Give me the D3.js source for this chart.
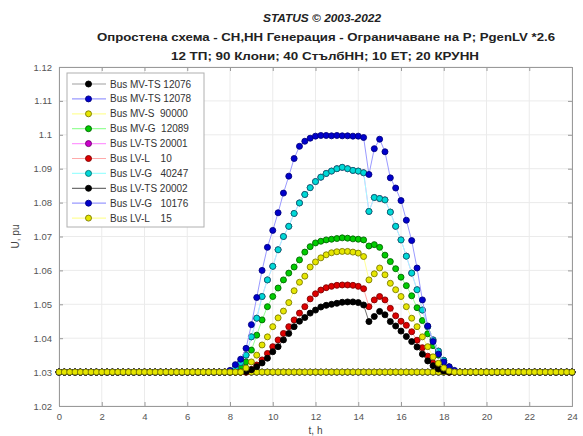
<!DOCTYPE html>
<html><head><meta charset="utf-8">
<script src="https://cdn.jsdelivr.net/npm/d3@7"></script>
<style>
html,body{margin:0;padding:0;background:#fff;}
text{font-family:"Liberation Sans",Arial,sans-serif;}
</style></head>
<body>
<svg id="chart" width="583" height="436"></svg>
<script>
// ---------- data ----------
const titleLines = ["STATUS \u00A9 2003-2022",
  "Опростена схема - СН,НН Генерация - Ограничаване на P; PgenLV *2.6",
  "12 ТП; 90 Клони; 40 СтълбНН; 10 ЕТ; 20 КРУНН"];
const xLabel = "t, h";
const yLabel = "U, pu";
const xTicks = [0,2,4,6,8,10,12,14,16,18,20,22,24];
const yTicks = [1.02,1.03,1.04,1.05,1.06,1.07,1.08,1.09,1.1,1.11,1.12];

const times = [0,0.25,0.5,0.75,1,1.25,1.5,1.75,2,2.25,2.5,2.75,3,3.25,3.5,3.75,4,4.25,4.5,4.75,5,5.25,5.5,5.75,6,6.25,6.5,6.75,7,7.25,7.5,7.75,8,8.25,8.5,8.75,9,9.25,9.5,9.75,10,10.25,10.5,10.75,11,11.25,11.5,11.75,12,12.25,12.5,12.75,13,13.25,13.5,13.75,14,14.25,14.5,14.75,15,15.25,15.5,15.75,16,16.25,16.5,16.75,17,17.25,17.5,17.75,18,18.25,18.5,18.75,19,19.25,19.5,19.75,20,20.25,20.5,20.75,21,21.25,21.5,21.75,22,22.25,22.5,22.75,23,23.25,23.5,23.75,24];

// night part (00:00 - 07:45) shared flat level
const night = [1.03,1.03,1.03,1.03,1.03,1.03,1.03,1.03,1.03,1.03,1.03,1.03,1.03,1.03,1.03,1.03,1.03,1.03,1.03,1.03,1.03,1.03,1.03,1.03,1.03,1.03,1.03,1.03,1.03,1.03,1.03,1.03];
// evening part (18:45 - 24:00)
const evening = [1.03,1.03,1.03,1.03,1.03,1.03,1.03,1.03,1.03,1.03,1.03,1.03,1.03,1.03,1.03,1.03,1.03,1.03,1.03,1.03,1.03,1.03];

// day values 08:00 - 18:30 (43 points)
const dayMVTS12076 = [1.03,1.03,1.03,1.03,1.03,1.03,1.03,1.03,1.03,1.03,1.03,1.03,1.03,1.03,1.03,1.03,1.03,1.03,1.03,1.03,1.03,1.03,1.03,1.03,1.03,1.03,1.03,1.03,1.03,1.03,1.03,1.03,1.03,1.03,1.03,1.03,1.03,1.03,1.03,1.03,1.03,1.03,1.03];
const dayMVTS12078 = [1.03,1.03,1.03,1.03,1.03,1.03,1.03,1.03,1.03,1.03,1.03,1.03,1.03,1.03,1.03,1.03,1.03,1.03,1.03,1.03,1.03,1.03,1.03,1.03,1.03,1.03,1.03,1.03,1.03,1.03,1.03,1.03,1.03,1.03,1.03,1.03,1.03,1.03,1.03,1.03,1.03,1.03,1.03];
const dayMVS90000  = [1.03,1.03,1.03,1.03,1.03,1.03,1.03,1.03,1.03,1.03,1.03,1.03,1.03,1.03,1.03,1.03,1.03,1.03,1.03,1.03,1.03,1.03,1.03,1.03,1.03,1.03,1.03,1.03,1.03,1.03,1.03,1.03,1.03,1.03,1.03,1.03,1.03,1.03,1.03,1.03,1.03,1.03,1.03];
const dayMVG12089  = [1.03,1.03,1.0315,1.0330,1.0365,1.0409,1.0454,1.0493,1.0523,1.0548,1.0572,1.0592,1.0610,1.0631,1.0654,1.0670,1.0681,1.0686,1.0690,1.0692,1.0694,1.0696,1.0695,1.0693,1.0692,1.0690,1.0672,1.0676,1.0668,1.0645,1.0626,1.0605,1.0580,1.0555,1.0525,1.0490,1.0452,1.0413,1.0378,1.0350,1.0328,1.0312,1.0302];
const dayLVTS20001 = [1.03,1.0312,1.0328,1.0350,1.0404,1.0459,1.0523,1.0572,1.0612,1.0661,1.0700,1.0730,1.0768,1.0799,1.0824,1.0844,1.0862,1.0875,1.0886,1.0893,1.0900,1.0904,1.0900,1.0895,1.0893,1.0888,1.0774,1.0815,1.0812,1.0808,1.0772,1.0730,1.0690,1.0642,1.0592,1.0543,1.0483,1.0434,1.0395,1.0362,1.0335,1.0315,1.0303];
const dayLVL10     = [1.03,1.03,1.03,1.03,1.0308,1.0321,1.0336,1.0355,1.0375,1.0395,1.0414,1.0434,1.0454,1.0474,1.0493,1.0516,1.0531,1.0542,1.0549,1.0553,1.0556,1.0557,1.0557,1.0556,1.0553,1.0546,1.0493,1.0513,1.0523,1.0513,1.0488,1.0466,1.0450,1.0438,1.0419,1.0394,1.0372,1.0347,1.0327,1.0313,1.0305,1.03,1.03];
const dayLVG40247  = [1.03,1.0312,1.0328,1.0350,1.0404,1.0459,1.0523,1.0572,1.0612,1.0661,1.0700,1.0730,1.0768,1.0799,1.0824,1.0844,1.0862,1.0875,1.0886,1.0893,1.0900,1.0904,1.0900,1.0895,1.0893,1.0888,1.0774,1.0815,1.0812,1.0808,1.0772,1.0730,1.0690,1.0642,1.0592,1.0543,1.0483,1.0434,1.0395,1.0362,1.0335,1.0315,1.0303];
const dayLVTS20002 = [1.03,1.03,1.03,1.0302,1.0307,1.0316,1.0327,1.0341,1.0360,1.0375,1.0395,1.0414,1.0434,1.0450,1.0461,1.0474,1.0483,1.0492,1.0497,1.0500,1.0503,1.0506,1.0507,1.0507,1.0505,1.0498,1.0449,1.0464,1.0479,1.0469,1.0449,1.0436,1.0421,1.0405,1.0390,1.0374,1.0353,1.0333,1.0319,1.0309,1.0303,1.03,1.03];
const dayLVG10176  = [1.0305,1.0322,1.0338,1.0370,1.0440,1.0520,1.0600,1.0668,1.0718,1.0770,1.0828,1.0878,1.0930,1.0966,1.0981,1.0990,1.0996,1.0998,1.0998,1.0997,1.0998,1.0997,1.0997,1.0996,1.0996,1.0992,1.0883,1.0959,1.0987,1.0950,1.0873,1.0843,1.0806,1.0748,1.0688,1.0607,1.0513,1.0436,1.0390,1.0353,1.0330,1.0316,1.0305];
const dayLVL15     = [1.03,1.03,1.03,1.0312,1.0330,1.0350,1.0380,1.0404,1.0434,1.0460,1.0480,1.0505,1.0540,1.0565,1.0583,1.0610,1.0625,1.0637,1.0646,1.0652,1.0655,1.0656,1.0656,1.0654,1.0651,1.0641,1.0572,1.0590,1.0607,1.0587,1.0562,1.0543,1.0523,1.0493,1.0459,1.0434,1.0404,1.0375,1.0345,1.0326,1.0312,1.0303,1.03];

const seriesNames = ["Bus MV-TS 12076","Bus MV-TS 12078","Bus MV-S  90000","Bus MV-G  12089","Bus LV-TS 20001","Bus LV-L    10","Bus LV-G   40247","Bus LV-TS 20002","Bus LV-G   10176","Bus LV-L    15"];
const seriesDay = [dayMVTS12076,dayMVTS12078,dayMVS90000,dayMVG12089,dayLVTS20001,dayLVL10,dayLVG40247,dayLVTS20002,dayLVG10176,dayLVL15];
const markerFill = ["#000000","#0000cc","#e6e600","#00cc00","#cc00cc","#dd0000","#00d8d8","#000000","#0000cc","#e6e600"];
const markerEdge = ["#000000","#000080","#7a7a00","#006600","#700070","#800000","#007070","#000000","#000080","#7a7a00"];
const lineColor  = ["#a0a0a0","#9a9aff","#ffff99","#99ff99","#ff99ff","#ffaaaa","#a0ffff","#707070","#9a9aff","#ffff99"];

// ---------- layout ----------
const W = 583, H = 436;
const L = 59, R = 572, T = 67, B = 406;
const svg = d3.select("#chart");
const x = d3.scaleLinear().domain([0,24]).range([L,R]);
const y = d3.scaleLinear().domain([1.02,1.12]).range([B,T]);

svg.append("rect").attr("width",W).attr("height",H).attr("fill","#fff");

// grid
svg.append("g").selectAll("line").data(xTicks).join("line")
  .attr("x1",d=>x(d)).attr("x2",d=>x(d)).attr("y1",T).attr("y2",B)
  .attr("stroke","#ebebeb").attr("stroke-width",1);
svg.append("g").selectAll("line").data(yTicks).join("line")
  .attr("x1",L).attr("x2",R).attr("y1",d=>y(d)).attr("y2",d=>y(d))
  .attr("stroke","#ebebeb").attr("stroke-width",1);

// axes
const fmtY = d => String(+d.toFixed(2));
const axB = d3.axisBottom(x).tickValues(xTicks).tickSize(-4).tickPadding(7).tickFormat(d=>String(d));
const axL = d3.axisLeft(y).tickValues(yTicks).tickSize(-4).tickPadding(7).tickFormat(fmtY);
const axT = d3.axisTop(x).tickValues(xTicks).tickSize(-4).tickFormat("");
const axR = d3.axisRight(y).tickValues(yTicks).tickSize(-4).tickFormat("");
function styleAxis(g){
  g.select(".domain").attr("stroke","#9a9a9a");
  g.selectAll(".tick line").attr("stroke","#9a9a9a");
  g.selectAll(".tick text").attr("fill","#555").attr("font-size","9.5px").attr("font-family","Liberation Sans, Arial, sans-serif");
}
svg.append("g").attr("transform",`translate(0,${B})`).call(axB).call(styleAxis);
svg.append("g").attr("transform",`translate(${L},0)`).call(axL).call(styleAxis);
svg.append("g").attr("transform",`translate(0,${T})`).call(axT).call(styleAxis);
svg.append("g").attr("transform",`translate(${R},0)`).call(axR).call(styleAxis);

// series
const line = d3.line().x(d=>x(d[0])).y(d=>y(d[1]));
const plot = svg.append("g");
seriesDay.forEach((day,k)=>{
  const vals = night.concat(day, evening);
  const pts = times.map((t,i)=>[t, vals[i]]);
  const g = plot.append("g");
  g.append("path").datum(pts).attr("d",line).attr("fill","none")
    .attr("stroke",lineColor[k]).attr("stroke-width",1);
  g.selectAll("circle").data(pts).join("circle")
    .attr("cx",d=>x(d[0])).attr("cy",d=>y(d[1])).attr("r",3.0)
    .attr("fill",markerFill[k]).attr("stroke",markerEdge[k]).attr("stroke-width",0.9);
});

// titles
const tg = svg.append("g").attr("text-anchor","middle").attr("font-weight","bold").attr("fill","#222");
tg.append("text").attr("x",322).attr("y",22).attr("font-size","11.5px").attr("font-style","italic")
  .attr("textLength",118).attr("lengthAdjust","spacingAndGlyphs").text(titleLines[0]);
tg.append("text").attr("x",326).attr("y",41).attr("font-size","11.5px")
  .attr("textLength",458).attr("lengthAdjust","spacingAndGlyphs").text(titleLines[1]);
tg.append("text").attr("x",325).attr("y",60).attr("font-size","11.5px")
  .attr("textLength",308).attr("lengthAdjust","spacingAndGlyphs").text(titleLines[2]);

svg.append("text").attr("x",(L+R)/2).attr("y",434).attr("text-anchor","middle")
  .attr("font-size","10px").attr("fill","#444").text(xLabel);
svg.append("text").attr("transform",`translate(19,${(T+B)/2}) rotate(-90)`).attr("text-anchor","middle")
  .attr("font-size","10px").attr("fill","#444").text(yLabel);

// legend
const lg = svg.append("g");
lg.append("rect").attr("x",67).attr("y",73).attr("width",137).attr("height",154)
  .attr("fill","#fff").attr("stroke","#b0b0b0").attr("stroke-width",1);
seriesNames.forEach((n,k)=>{
  const yy = 84 + k*14.9;
  lg.append("line").attr("x1",72).attr("x2",106).attr("y1",yy).attr("y2",yy)
    .attr("stroke",lineColor[k]).attr("stroke-width",1.2);
  lg.append("circle").attr("cx",88.5).attr("cy",yy).attr("r",3.0)
    .attr("fill",markerFill[k]).attr("stroke",markerEdge[k]).attr("stroke-width",0.9);
  lg.append("text").attr("x",110).attr("y",yy+3.5).attr("font-size","10px")
    .attr("fill","#333").style("white-space","pre").text(n);
});
</script>
</body></html>
